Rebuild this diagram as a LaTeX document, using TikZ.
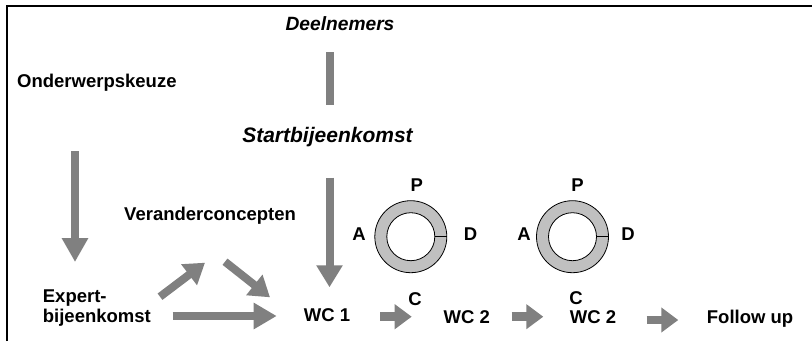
\documentclass[tikz,border=0pt]{standalone}
\usepackage{fontspec}
\setmainfont{Liberation Sans}
\usetikzlibrary{arrows.meta}
\definecolor{arrowgray}{HTML}{808080}
\definecolor{ringgray}{HTML}{C0C0C0}
\tikzset{
  lbl/.style={font=\fontsize{18.5}{20}\selectfont\bfseries, inner sep=0pt},
  ttl/.style={font=\fontsize{#1}{22}\selectfont\bfseries\itshape, inner sep=0pt},
  blockarrow/.style={draw=arrowgray, line width=8pt, -{Triangle[length=#1, width=25pt, fill=arrowgray]}},
  blockarrow/.default=23pt,
  smallarrow/.style={draw=arrowgray, line width=8.5pt, -{Triangle[length=17pt, width=24pt, fill=arrowgray]}},
  ring/.style={draw=black, line width=0.8pt}
}
\begin{document}
\begin{tikzpicture}[x=1pt, y=-1pt]
\useasboundingbox (0,0) rectangle (812,341);
% frame (cropped at right and bottom)
\draw[line width=2pt] (7.2,341) -- (7.2,5.5) -- (812,5.5);

% texts
\node[ttl=19.2, anchor=base] (deel) at (340,30.5) {Deelnemers};
\node[ttl=21, anchor=base] (start) at (327.5,142) {Startbijeenkomst};
\node[lbl, anchor=base west] (onder) at (17,87) {Onderwerpskeuze};
\node[lbl, anchor=base west] (veran) at (124,220) {Veranderconcepten};
\node[lbl, anchor=north west, align=left] (expert) at (42.7,289.5) {Expert-\\bijeenkomst};
\node[lbl, anchor=base] (wc1) at (327,321.7) {WC 1};
\node[lbl, anchor=base] (wc2a) at (466.7,323) {WC 2};
\node[lbl, anchor=base] (wc2b) at (593,323) {WC 2};
\node[lbl, anchor=base west] (follow) at (706.7,323) {Follow up};

% PDCA rings
\coordinate (r1) at (410.8,236.7);
\coordinate (r2) at (572.5,236.7);
\foreach \r in {r1,r2}{
  \fill[ringgray, even odd rule] (\r) circle[radius=36] (\r) circle[radius=24];
  \draw[ring] (\r) circle[radius=36];
  \draw[ring] (\r) circle[radius=24];
  \draw[ring] ([xshift=24pt]\r) -- ([xshift=36pt]\r);
}
\node[lbl, anchor=base] (p1) at (416.7,191.7) {P};
\node[lbl, anchor=base] (a1) at (359,240.7) {A};
\node[lbl, anchor=base] (d1) at (470.5,240.7) {D};
\node[lbl, anchor=base] (c1) at (415,305) {C};
\node[lbl, anchor=base] (p2) at (577.5,191.7) {P};
\node[lbl, anchor=base] (a2) at (524,240.7) {A};
\node[lbl, anchor=base] (d2) at (628,240.7) {D};
\node[lbl, anchor=base] (c2) at (576,304.5) {C};

% connector end points
\coordinate (barTop) at (330,52);
\coordinate (barBot) at (330,105);
\coordinate (leftTop) at (75,151);
\coordinate (leftTip) at (75,262);
\coordinate (midTop) at (329.5,177.7);
\coordinate (midTip) at (329.5,287.3);
\coordinate (upFrom) at (160,296.7);
\coordinate (upTip) at (205,262.7);
\coordinate (dnFrom) at (225,261.7);
\coordinate (dnTip) at (270,297.3);
\coordinate (hFrom) at (172.7,316);
\coordinate (hTip) at (276.7,316);
\coordinate (s1From) at (380,316.7);
\coordinate (s1Tip) at (411.7,316.7);
\coordinate (s2From) at (511.7,316.7);
\coordinate (s2Tip) at (543.3,316.7);
\coordinate (s3From) at (646.7,320);
\coordinate (s3Tip) at (678.3,320);

% connectors
\draw[draw=arrowgray, line width=8pt] (barTop) -- (barBot);
\draw[blockarrow=24pt] (leftTop) -- (leftTip);
\draw[blockarrow=22pt] (midTop) -- (midTip);
\draw[blockarrow=20pt] (upFrom) -- (upTip);
\draw[blockarrow=20pt] (dnFrom) -- (dnTip);
\draw[blockarrow=23pt] (hFrom) -- (hTip);
\draw[smallarrow] (s1From) -- (s1Tip);
\draw[smallarrow] (s2From) -- (s2Tip);
\draw[smallarrow] (s3From) -- (s3Tip);
\end{tikzpicture}
\end{document}
